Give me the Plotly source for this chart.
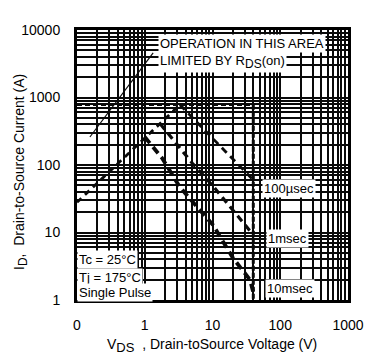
import plotly.graph_objects as go

# ---- data ----
x_tickvals = [0.1, 1, 10, 100, 1000]
x_ticktext = ["0", "1", "10", "100", "1000"]
y_tickvals = [1, 10, 100, 1000, 10000]
y_ticktext = ["1", "10", "100", "1000", "10000"]

# RDS(on) limited rising line
rds_v = [0.1, 3.3]
rds_i = [28, 780]
# package / pulse current limit (horizontal) and BVDSS (vertical)
lim_h_v = [0.1, 40]
lim_h_i = [780, 780]
lim_v_v = [40, 40]
lim_v_i = [780, 1]
# 100 usec
us100_v = [3.3, 40]
us100_i = [780, 60]
# 1 msec
ms1_v = [1.7, 5.0, 9.8, 30, 40]
ms1_i = [405, 107, 51, 12.9, 9.2]
# 10 msec
ms10_v = [1.0, 1.8, 3.3, 10.2, 20, 35.7, 40]
ms10_i = [260, 127, 47, 12.9, 4.2, 2.0, 1.3]
# annotation pointer line
ptr_v = [0.155, 1.33]
ptr_i = [260, 4570]

x_minor = [d * k for d in [0.1, 1, 10, 100] for k in range(2, 10)]
y_minor = [d * k for d in [1, 10, 100, 1000] for k in range(2, 10)]

FONT = "Liberation Sans, Arial, sans-serif"
INK = "#0a0a0a"

fig = go.Figure()

fig.add_trace(go.Scatter(x=ptr_v, y=ptr_i, mode="lines",
                         line=dict(color=INK, width=1.2), hoverinfo="skip"))
fig.add_trace(go.Scatter(x=lim_h_v, y=lim_h_i, mode="lines",
                         line=dict(color=INK, width=2.6, dash="5px,3px")))
fig.add_trace(go.Scatter(x=lim_v_v, y=lim_v_i, mode="lines",
                         line=dict(color=INK, width=3, dash="5px,2px")))
fig.add_trace(go.Scatter(x=rds_v, y=rds_i, mode="lines",
                         line=dict(color=INK, width=2.8, dash="6px,5px")))
fig.add_trace(go.Scatter(x=us100_v, y=us100_i, mode="lines",
                         line=dict(color=INK, width=2.8, dash="7px,5px")))
fig.add_trace(go.Scatter(x=ms1_v, y=ms1_i, mode="lines",
                         line=dict(color=INK, width=3.2, dash="7px,5px")))
fig.add_trace(go.Scatter(x=ms10_v, y=ms10_i, mode="lines",
                         line=dict(color=INK, width=3.8, dash="8px,5px")))

# page has an 8px body margin; plot area in page pixels: x 77..348, y 30..300
OFF = 8
W, H = 377 - OFF, 360 - OFF
L, R, T, B = 77, 348, 30, 300
def px(x):
    return (x - L) / (R - L)
def py(y):
    return (B - y) / (B - T)

def big_sub(s, size):
    return '<sub><span style="font-size:%dpx">%s</span></sub>' % (size, s)

ann = []
def text(s, x, y, xanchor="left", size=13, bg="white", **kw):
    ann.append(dict(text=s, x=px(x), y=py(y), xref="paper", yref="paper",
                    xanchor=xanchor, yanchor="middle", showarrow=False,
                    font=dict(size=size, color="black", family=FONT),
                    bgcolor=bg, borderpad=1, **kw))

text("OPERATION IN THIS AREA", 158, 44)
text("LIMITED BY R" + big_sub("DS", 12) + "(on)", 158, 62)
text("100µsec", 262, 188)
text("1msec", 266, 238)
text("10msec", 265, 288)
text("Tc = 25°C", 77, 259)
text("Tj = 175°C", 77, 277)
text("Single Pulse", 77, 292)
# axis titles
text("I" + big_sub("D", 12) + ",  Drain-to-Source Current (A)", 20, 172,
     xanchor="center", size=14, bg="rgba(0,0,0,0)", textangle=-90)
text("V" + big_sub("DS", 13) + "  , Drain-toSource Voltage (V)", 212, 345,
     xanchor="center", size=14, bg="rgba(0,0,0,0)")
fig.update_layout(annotations=ann)

axis_common = dict(
    type="log", showline=True, linecolor="black", linewidth=3, mirror=True,
    showgrid=True, gridcolor=INK, gridwidth=1.8, zeroline=False,
    ticks="", tickfont=dict(size=14, color="black", family=FONT),
    tickmode="array", automargin=False,
)

fig.update_xaxes(range=[-1, 3], tickvals=x_tickvals, ticktext=x_ticktext,
                 ticklabelstandoff=10,
                 minor=dict(tickmode="array", tickvals=x_minor, showgrid=True,
                            gridcolor=INK, gridwidth=1.7, ticks=""),
                 **axis_common)
fig.update_yaxes(range=[0, 4], tickvals=y_tickvals, ticktext=y_ticktext,
                 ticklabelstandoff=11,
                 minor=dict(tickmode="array", tickvals=y_minor, showgrid=True,
                            gridcolor=INK, gridwidth=1.7, ticks=""),
                 **axis_common)

fig.update_layout(
    width=W, height=H,
    margin=dict(l=L - OFF, r=(OFF + W) - R, t=T - OFF, b=(OFF + H) - B),
    plot_bgcolor="white", paper_bgcolor="white",
    showlegend=False,
    font=dict(family=FONT, color="black"),
)

fig.write_html("out.html")
